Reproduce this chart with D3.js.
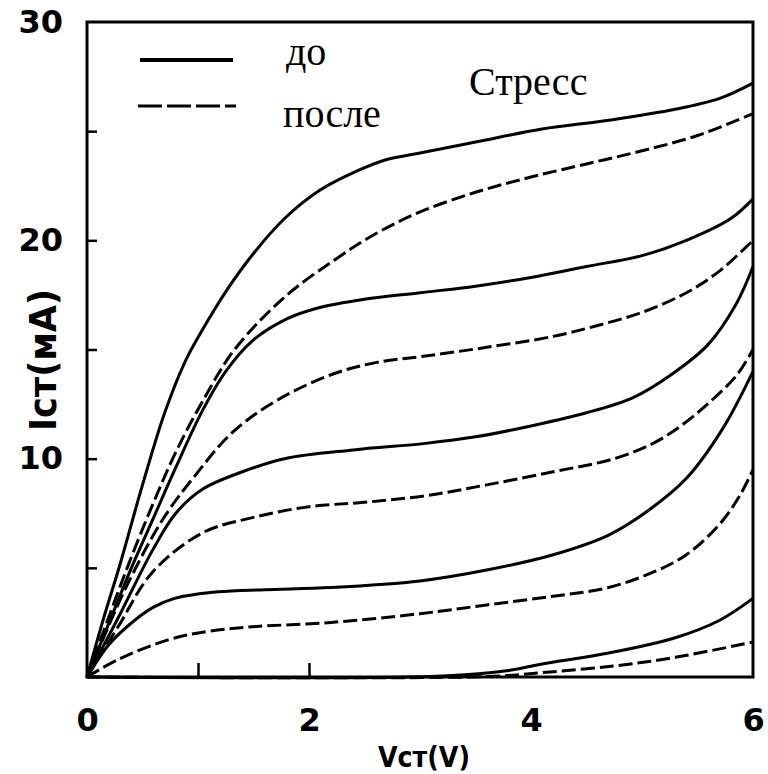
<!DOCTYPE html>
<html>
<head>
<meta charset="utf-8">
<script src="https://cdn.jsdelivr.net/npm/d3@7"></script>
<style>
  body { margin: 0; background: #fff; }
  svg { display: block; }
</style>
</head>
<body>
<script>
// curves: [Vст (V), Iст (mA)]
var before1 = [[0,0],[0.15,2.7],[0.3,5.2],[0.5,8.8],[0.7,12.1],[0.88,14.4],[1.04,15.9],[1.27,17.8],[1.5,19.4],[1.78,21.0],[2.1,22.3],[2.4,23.1],[2.7,23.7],[3.0,24.0],[3.5,24.5],[4.1,25.1],[4.7,25.5],[5.3,26.0],[5.7,26.5],[6,27.2]];
var after1  = [[0,0],[0.2,2.8],[0.4,5.5],[0.6,8.0],[0.8,10.3],[1.06,12.8],[1.33,15.0],[1.78,17.4],[2.23,19.1],[2.6,20.3],[3.0,21.3],[3.5,22.2],[4.0,22.9],[4.5,23.5],[5.0,24.1],[5.5,24.8],[6,25.8]];
var before2 = [[0,0],[0.2,2.5],[0.4,5],[0.6,7.3],[0.8,9.6],[1.04,12.2],[1.25,14.0],[1.49,15.4],[1.8,16.4],[2.08,16.9],[2.5,17.3],[3.0,17.6],[3.5,17.9],[4.0,18.3],[4.5,18.8],[5.0,19.3],[5.4,20.0],[5.8,21.0],[6,21.9]];
var after2  = [[0,0],[0.2,2.4],[0.37,4.3],[0.68,7.2],[0.97,9.2],[1.31,11.2],[1.72,12.7],[2.23,13.9],[2.6,14.4],[3.05,14.7],[3.6,15.1],[4.2,15.6],[4.6,16.1],[5.0,16.7],[5.4,17.6],[5.7,18.6],[6,20.0]];
var before3 = [[0,0],[0.28,2.7],[0.59,5.8],[0.8,7.5],[1.04,8.6],[1.4,9.4],[1.78,10.0],[2.4,10.4],[3.05,10.7],[3.5,11.0],[4.0,11.5],[4.5,12.1],[4.92,12.8],[5.25,13.8],[5.59,15.2],[5.85,17.1],[6,18.8]];
var after3  = [[0,0],[0.28,2.3],[0.59,4.8],[1.04,6.6],[1.49,7.3],[2.0,7.8],[2.5,8.0],[3.05,8.3],[3.6,8.8],[4.2,9.4],[4.75,10.0],[5.1,10.7],[5.35,11.5],[5.59,12.5],[5.85,13.8],[6,15.0]];
var before4 = [[0,0],[0.2,1.5],[0.43,2.6],[0.6,3.2],[0.79,3.6],[1.18,3.9],[1.6,4.0],[2.2,4.1],[3.0,4.4],[3.6,4.9],[4.2,5.6],[4.7,6.5],[5.05,7.6],[5.4,9.1],[5.73,11.4],[6,14.0]];
var after4  = [[0,0],[0.28,0.8],[0.73,1.7],[1.1,2.1],[1.49,2.3],[2.2,2.5],[3.0,2.9],[3.6,3.3],[4.2,3.7],[4.7,4.1],[5.1,4.8],[5.4,5.6],[5.7,7.0],[5.88,8.3],[6,9.5]];
var before5 = [[0,0],[3.2,0.05],[3.8,0.3],[4.1,0.6],[4.7,1.1],[5.3,1.8],[5.7,2.6],[6,3.6]];
var after5  = [[0,0],[3.6,0.02],[4.1,0.2],[4.74,0.5],[5.3,0.9],[6,1.6]];

var beforeCurves = [before1, before2, before3, before4, before5];
var afterCurves = [after1, after2, after3, after4, after5];

var yTicks = [5, 10, 15, 20, 25];
var yLabels = [10, 20, 30];
var xTicks = [1, 2];
var xLabels = [0, 2, 4, 6];

var width = 768, height = 774;

var svg = d3.select("body").append("svg")
    .attr("width", width)
    .attr("height", height);

var x = d3.scaleLinear().domain([0, 6]).range([87, 753]);
var y = d3.scaleLinear().domain([0, 30]).range([677, 22]);

var line = d3.line()
    .x(function(d) { return x(d[0]); })
    .y(function(d) { return y(d[1]); })
    .curve(d3.curveCatmullRom.alpha(0.5));

// curves
svg.append("g")
    .selectAll("path")
    .data(beforeCurves)
    .enter()
    .append("path")
    .attr("d", line)
    .attr("fill", "none")
    .attr("stroke", "#000")
    .attr("stroke-width", 3);

svg.append("g")
    .selectAll("path")
    .data(afterCurves)
    .enter()
    .append("path")
    .attr("d", line)
    .attr("fill", "none")
    .attr("stroke", "#000")
    .attr("stroke-width", 3)
    .attr("stroke-dasharray", "14,5");

// frame
svg.append("rect")
    .attr("x", x(0))
    .attr("y", y(30))
    .attr("width", x(6) - x(0))
    .attr("height", y(0) - y(30))
    .attr("fill", "none")
    .attr("stroke", "#000")
    .attr("stroke-width", 3);

// inner ticks
svg.append("g")
    .attr("transform", "translate(" + x(0) + ",0)")
    .call(d3.axisLeft(y).tickValues(yTicks).tickSize(-10).tickFormat(""));
svg.append("g")
    .attr("transform", "translate(0," + y(0) + ")")
    .call(d3.axisBottom(x).tickValues(xTicks).tickSize(-14).tickFormat(""));

// labels
svg.append("g")
    .attr("transform", "translate(" + x(0) + ",0)")
    .call(d3.axisLeft(y).tickValues(yLabels).tickSize(0).tickPadding(24).tickFormat(d3.format("d")));
svg.append("g")
    .attr("transform", "translate(0," + y(0) + ")")
    .call(d3.axisBottom(x).tickValues(xLabels).tickSize(0).tickPadding(31).tickFormat(d3.format("d")));

svg.selectAll(".domain").remove();
svg.selectAll(".tick line").attr("stroke", "#000").attr("stroke-width", 2.5);
svg.selectAll(".tick text")
    .attr("fill", "#000")
    .style("font-family", "'DejaVu Sans', sans-serif")
    .style("font-weight", "bold")
    .style("font-size", "32px");

// axis titles
svg.append("text")
    .attr("transform", "translate(56,360) rotate(-90)")
    .attr("text-anchor", "middle")
    .attr("textLength", 142)
    .attr("lengthAdjust", "spacingAndGlyphs")
    .style("font-family", "'DejaVu Sans', sans-serif")
    .style("font-weight", "bold")
    .style("font-size", "37px")
    .text("Iст(мA)");

svg.append("text")
    .attr("x", 424)
    .attr("y", 767)
    .attr("text-anchor", "middle")
    .attr("textLength", 92)
    .attr("lengthAdjust", "spacingAndGlyphs")
    .style("font-family", "'DejaVu Sans', sans-serif")
    .style("font-weight", "bold")
    .style("font-size", "29px")
    .text("Vст(V)");

// legend
svg.append("line")
    .attr("x1", 140).attr("x2", 233)
    .attr("y1", 60).attr("y2", 60)
    .attr("stroke", "#000").attr("stroke-width", 4);
svg.append("line")
    .attr("x1", 138).attr("x2", 236)
    .attr("y1", 106).attr("y2", 106)
    .attr("stroke", "#000").attr("stroke-width", 3)
    .attr("stroke-dasharray", "24,5");

var serif = "'Liberation Serif', 'DejaVu Serif', serif";
svg.append("text").attr("x", 286).attr("y", 65)
    .style("font-family", serif).style("font-size", "40px").text("до");
svg.append("text").attr("x", 283).attr("y", 127)
    .style("font-family", serif).style("font-size", "40px").text("после");
svg.append("text").attr("x", 469).attr("y", 95)
    .style("font-family", serif).style("font-size", "40px").text("Стресс");
</script>
</body>
</html>
